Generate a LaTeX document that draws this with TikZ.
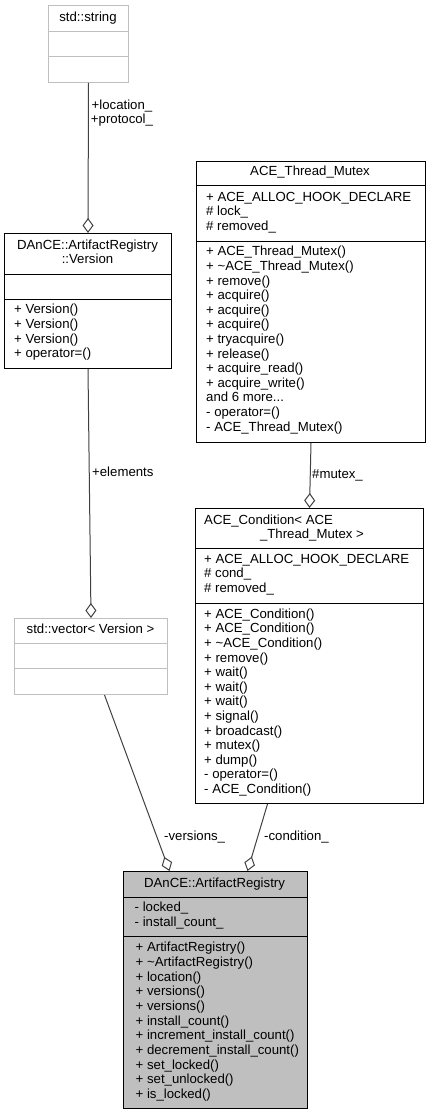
\documentclass[tikz,border=0pt]{standalone}
\usepackage{fontspec}
\setmainfont{Liberation Sans}
\usetikzlibrary{arrows.meta}
\definecolor{grey75}{HTML}{BFBFBF}
\definecolor{edgegrey}{HTML}{404040}
\newcommand\mymoredots{...}
\begin{document}
\begin{tikzpicture}[x=1pt,y=-1pt,
  box/.style={draw=black, line width=1pt, fill=white, inner sep=0pt, anchor=north west},
  extbox/.style={box, draw=grey75},
  mainbox/.style={box, fill=grey75},
  divider/.style={line width=1pt},
  extdivider/.style={line width=1pt, draw=grey75},
  mem/.style={anchor=west, inner sep=0pt, text height=9.5pt, text depth=2.8pt, font=\fontsize{13.2}{14.6}\selectfont},
  ttl/.style={mem, anchor=center},
  lbl/.style={mem},
  agg/.style={draw=edgegrey, line width=1pt, -{Diamond[open, length=15pt, width=11pt, line width=1pt]}}
]
\useasboundingbox (0,0) rectangle (431,1115);

% ---------- std::string ----------
\node[extbox, minimum width=80pt, minimum height=77pt] (str) at (48,5) {};
\draw[extdivider] (48,32) -- (128,32);
\draw[extdivider] (48,57) -- (128,57);
\node[ttl] (str-t) at (88,18) {std::string};

% ---------- DAnCE::ArtifactRegistry::Version ----------
\node[box, minimum width=167pt, minimum height=135pt] (ver) at (4,233) {};
\draw[divider] (4,274) -- (171,274);
\draw[divider] (4,299) -- (171,299);
\node[ttl] (ver-t1) at (87.5,246) {DAnCE::ArtifactRegistry};
\node[ttl] (ver-t2) at (87.5,260.5) {::Version};
\foreach \t [count=\i] in {{+ Version()},{+ Version()},{+ Version()},{+ operator=()}}
  \node[mem] (ver-m\i) at (14,{310.5+14.6*(\i-1)}) {\t};

% ---------- ACE_Thread_Mutex ----------
\node[box, minimum width=229pt, minimum height=281pt] (mtx) at (196,161) {};
\draw[divider] (196,186) -- (425,186);
\draw[divider] (196,241) -- (425,241);
\node[ttl] (mtx-t) at (310,172.5) {ACE\_Thread\_Mutex};
\foreach \t [count=\i] in {{+ ACE\_ALLOC\_HOOK\_DECLARE},{\# lock\_},{\# removed\_}}
  \node[mem] (mtx-a\i) at (206,{198+14.6*(\i-1)}) {\t};
\foreach \t [count=\i] in {{+ ACE\_Thread\_Mutex()},{+ \textasciitilde ACE\_Thread\_Mutex()},{+ remove()},{+ acquire()},{+ acquire()},{+ acquire()},{+ tryacquire()},{+ release()},{+ acquire\_read()},{+ acquire\_write()},{and 6 more\mymoredots},{- operator=()},{- ACE\_Thread\_Mutex()}}
  \node[mem] (mtx-m\i) at (206,{252.5+14.6*(\i-1)}) {\t};

% ---------- ACE_Condition< ACE_Thread_Mutex > ----------
\node[box, minimum width=228pt, minimum height=295pt] (cond) at (195,508) {};
\draw[divider] (195,548) -- (423,548);
\draw[divider] (195,603) -- (423,603);
\node[mem] (cond-t1) at (204,521) {ACE\_Condition< ACE};
\node[ttl] (cond-t2) at (312,535.5) {\_Thread\_Mutex >};
\foreach \t [count=\i] in {{+ ACE\_ALLOC\_HOOK\_DECLARE},{\# cond\_},{\# removed\_}}
  \node[mem] (cond-a\i) at (204,{560+14.6*(\i-1)}) {\t};
\foreach \t [count=\i] in {{+ ACE\_Condition()},{+ ACE\_Condition()},{+ \textasciitilde ACE\_Condition()},{+ remove()},{+ wait()},{+ wait()},{+ wait()},{+ signal()},{+ broadcast()},{+ mutex()},{+ dump()},{- operator=()},{- ACE\_Condition()}}
  \node[mem] (cond-m\i) at (204,{615+14.6*(\i-1)}) {\t};

% ---------- std::vector< Version > ----------
\node[extbox, minimum width=153pt, minimum height=76pt] (vec) at (14,618) {};
\draw[extdivider] (14,643) -- (167,643);
\draw[extdivider] (14,668) -- (167,668);
\node[ttl] (vec-t) at (90.5,630.5) {std::vector< Version >};

% ---------- DAnCE::ArtifactRegistry ----------
\node[mainbox, minimum width=184pt, minimum height=237pt] (ar) at (123,871) {};
\draw[divider] (123,897) -- (307,897);
\draw[divider] (123,936) -- (307,936);
\node[ttl] (ar-t) at (214.5,884) {DAnCE::ArtifactRegistry};
\foreach \t [count=\i] in {{- locked\_},{- install\_count\_}}
  \node[mem] (ar-a\i) at (134.5,{908.5+14.6*(\i-1)}) {\t};
\foreach \t [count=\i] in {{+ ArtifactRegistry()},{+ \textasciitilde ArtifactRegistry()},{+ location()},{+ versions()},{+ versions()},{+ install\_count()},{+ increment\_install\_count()},{+ decrement\_install\_count()},{+ set\_locked()},{+ set\_unlocked()},{+ is\_locked()}}
  \node[mem] (ar-m\i) at (135.5,{948.5+14.66*(\i-1)}) {\t};

% ---------- connectors ----------
\draw[agg] (str.south) -- (ver.north);
\node[ttl, align=center] (lbl-str) at (122,120.5) {+location\_\\+protocol\_};
\draw[agg] (ver.south) -- (vec.north);
\node[lbl] (lbl-el) at (92,473) {+elements};
\draw[agg] (mtx.south) -- (cond.north);
\node[lbl] (lbl-mtx) at (312,475) {\#mutex\_};
\draw[agg] ([xshift=13.5pt]vec.south) -- ([xshift=-46pt]ar.north);
\node[lbl] (lbl-vec) at (164,837) {-versions\_};
\draw[agg] ([xshift=-42pt]cond.south) -- ([xshift=32pt]ar.north);
\node[lbl] (lbl-cond) at (264,837) {-condition\_};
\end{tikzpicture}
\end{document}
